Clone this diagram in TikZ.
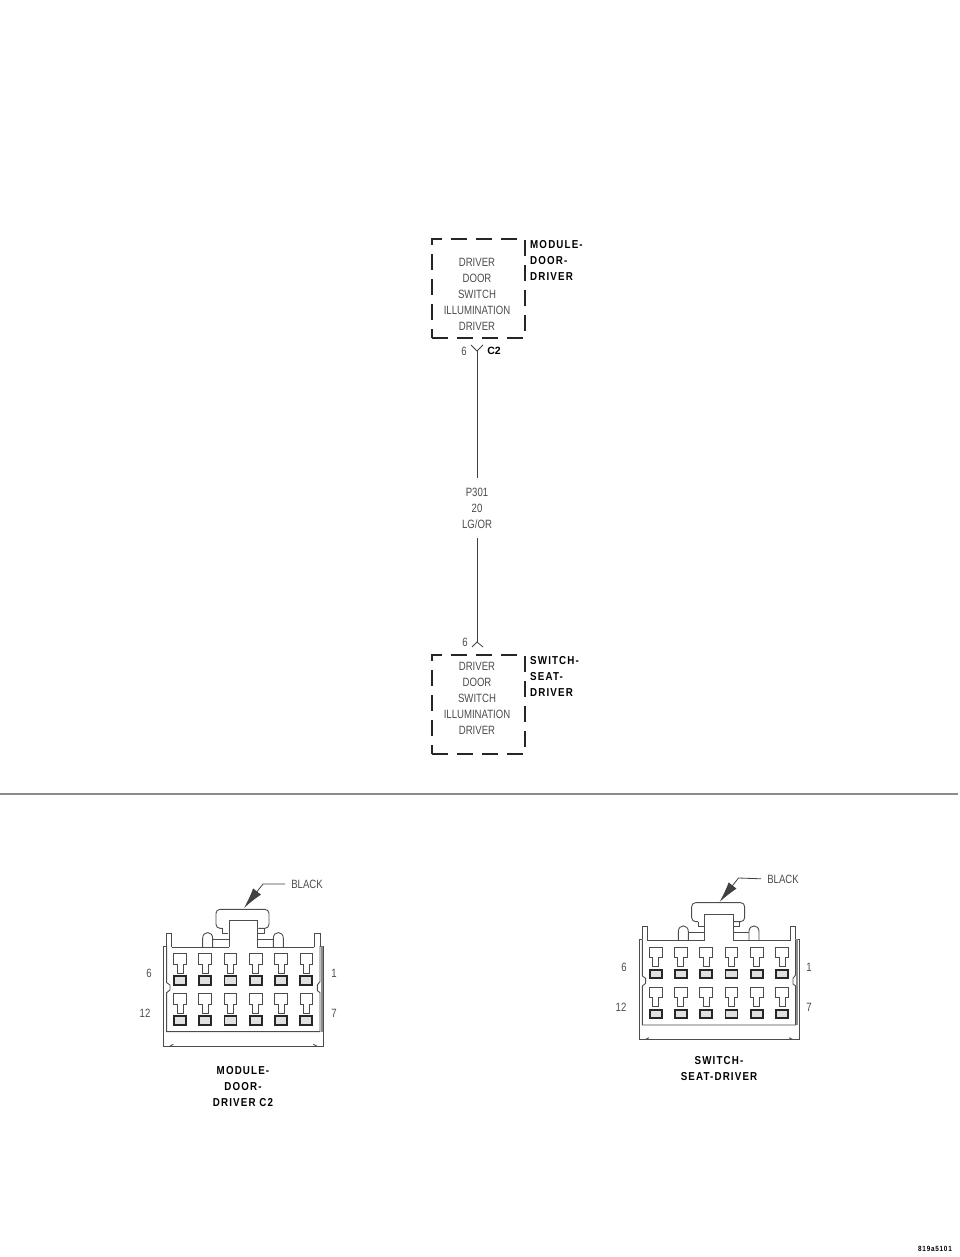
\documentclass[tikz,border=0pt]{standalone}
\usepackage{fontspec}
\setmainfont{Liberation Sans}
\newfontfamily\thinfont[FakeStretch=0.8]{Liberation Sans}
\newfontfamily\headfont[LetterSpace=10,FakeStretch=0.85]{Liberation Sans Bold}
\usetikzlibrary{arrows.meta}
\definecolor{inkgray}{gray}{0.3}
\tikzset{
	dashbox/.style={draw=black!85, line width=1.9pt, dash pattern=on 16pt off 9pt, minimum width=93pt, minimum height=99pt, inner sep=0pt},
	thin text/.style={font=\thinfont\fontsize{12}{16}\selectfont, text=inkgray, align=center, inner sep=0pt},
	head text/.style={font=\headfont\fontsize{11.5}{16}\selectfont, align=left, inner sep=0pt},
	caption text/.style={font=\headfont\fontsize{11.5}{16}\selectfont, align=center, inner sep=0pt},
	wire/.style={draw=black!75, line width=0.8pt},
	part/.style={draw=black!70, line width=0.9pt},
	pics/housing/.style={code={
		\begin{scope}[x=0.3333pt, y=-0.3333pt]
			\draw[part, rounded corners=4pt] (307,205) -- (288,205) -- (288,148) -- (447,148) -- (447,205) -- (415,205);
			\draw[part] (327,262) -- (327,182) -- (412,182) -- (412,262);
			\draw[part] (307,205) -- (307,220) -- (325,220) (415,220) -- (432,220) -- (432,205);
			\draw[part] (280,238) -- (327,238) (412,238) -- (460,238);
			\draw[part] (248,262) -- (248,235) .. controls (248,212) and (278,212) .. (278,235) -- (278,262);
			\draw[part] (460,262) -- (460,235) .. controls (460,212) and (490,212) .. (490,235) -- (490,262);
			\draw[part] (155,262) -- (327,262) (412,262) -- (583,262);
			\draw[part] (140,258) -- (140,220) -- (155,220) -- (155,262);
			\draw[part] (583,262) -- (583,220) -- (600,220) -- (600,258);
			\draw[part] (140,258) -- (131,258) -- (131,558) -- (610,558) -- (610,258) -- (600,258);
			\draw[part] (140,258) -- (140,368) -- (150,375) -- (150,390) -- (140,398) -- (140,515) -- (600,515) -- (600,398) -- (592,392) -- (592,375) -- (600,365) -- (600,258);
			\draw[black!45, line width=2pt] (605,258) -- (605,515);
			\draw[part] (150,558) -- (160,553) (580,553) -- (590,558);
			\foreach \row in {0,120} {
				\foreach \col in {0,...,5} {
					\pgfmathsetmacro{\cx}{180+75.8*\col}
					\begin{scope}[xshift=\cx*0.3333pt, yshift=-\row*0.3333pt]
						\draw[part] (-19,281) -- (19,281) -- (19,312) -- (9,312) -- (9,340) -- (-9,340) -- (-9,312) -- (-19,312) -- cycle;
						\draw[black!85, line width=1.7pt, fill=black!12] (-18,349) rectangle (18,375);
					\end{scope}
				}
			}
		\end{scope}
	}}
}
\begin{document}
\begin{tikzpicture}[x=1pt, y=-1pt]
		\useasboundingbox (0,0) rectangle (960,1257);
		
		\node[dashbox, anchor=north west] (modbox) at (431,238.4) {};
		\node[thin text] (modtext) at (477,294) {DRIVER\\DOOR\\SWITCH\\ILLUMINATION\\DRIVER};
		\node[head text, anchor=north west] (modname) at (530,240) {MODULE-\\DOOR-\\DRIVER};
		
		\node[dashbox, anchor=north west] (seatbox) at (431,654) {};
		\node[thin text] (seattext) at (477,698) {DRIVER\\DOOR\\SWITCH\\ILLUMINATION\\DRIVER};
		\node[head text, anchor=north west] (seatname) at (530,656) {SWITCH-\\SEAT-\\DRIVER};
		
		\coordinate (ForkTop) at (477,351);
		\coordinate (ForkBot) at (477,642);
		\node[thin text, minimum height=59pt, fill=white] (wirelabel) at (477,508) {P301\\20\\LG/OR};
		\draw[wire] (ForkTop) -- (wirelabel.north);
		\draw[wire] (wirelabel.south) -- (ForkBot);
		\draw[wire] (ForkTop) -- +(-6,-6);
		\draw[wire] (ForkTop) -- +(6,-6);
		\draw[wire] (ForkBot) -- +(-5,5);
		\draw[wire] (ForkBot) -- +(6,5);
		\node[thin text] (pintop) at (464,351) {6};
		\node[font=\bfseries\fontsize{10.5}{12}\selectfont, inner sep=0pt] (pinname) at (494,351) {C2};
		\node[thin text] (pinbot) at (465,642) {6};
		
		\draw[draw=black!45, line width=2pt] (0,794) -- (958,794);
		
		\pic (modconn) at (120,860) {housing};
		\pic (seatconn) at (595.67,853.33) {housing};
		
		\node[thin text] (modblack) at (307,884) {BLACK};
		\coordinate (modtip) at (244,908);
		\draw[wire, shorten <=6pt, -{Latex[length=21pt, width=10pt]}] (modblack.west) -- (263,884) -- (modtip);
		\node[thin text] (seatblack) at (783,879) {BLACK};
		\coordinate (seattip) at (719.5,902);
		\draw[wire, shorten <=6pt, -{Latex[length=21pt, width=10pt]}] (seatblack.west) -- (738.5,878) -- (seattip);
		
		\node[thin text] (modsix) at (149,973) {6};
		\node[thin text] (modtwelve) at (145,1013) {12};
		\node[thin text] (modone) at (334,973) {1};
		\node[thin text] (modseven) at (334,1013) {7};
		\node[thin text] (seatsix) at (624,967) {6};
		\node[thin text] (seattwelve) at (621,1007) {12};
		\node[thin text] (seatone) at (809,967) {1};
		\node[thin text] (seatseven) at (809,1007) {7};
		
		\node[caption text] (modcaption) at (243,1087) {MODULE-\\DOOR-\\DRIVER C2};
		\node[caption text] (seatcaption) at (719,1069) {SWITCH-\\SEAT-DRIVER};
		\node[font=\headfont\fontsize{7.5}{8}\selectfont, inner sep=0pt] (figcode) at (935,1249) {819a5101};
		\end{tikzpicture}
\end{document}
